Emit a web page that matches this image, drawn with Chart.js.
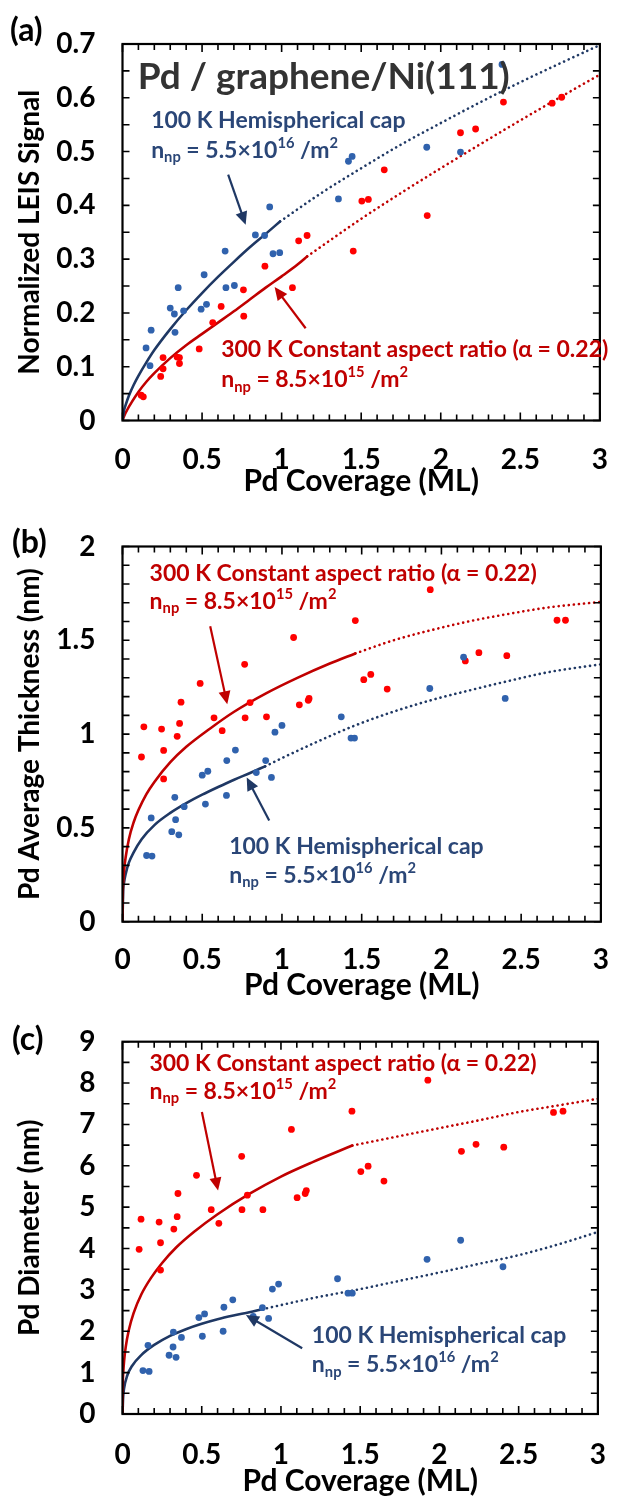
<!DOCTYPE html>
<html>
<head>
<meta charset="utf-8">
<script src="https://cdn.jsdelivr.net/npm/chart.js@4.4.0/dist/chart.umd.min.js"></script>
<style>
  body { margin: 0; background: #fff; }
  .wrap { position: relative; width: 633px; height: 1496px; overflow: hidden; }
  .wrap canvas { position: absolute; left: 0; }
  .tag { position: absolute; font: bold 32px Lato, sans-serif; color: #000; }
</style>
</head>
<body>
<div class="wrap">
  <canvas id="chartA" width="633" height="500" style="top:0px"></canvas>
  <canvas id="chartB" width="633" height="505" style="top:495px"></canvas>
  <canvas id="chartC" width="633" height="505" style="top:991px"></canvas>
  <div class="tag" style="left:10px;top:9px">(a)</div>
  <div class="tag" style="left:12px;top:521px">(b)</div>
  <div class="tag" style="left:12px;top:1018px">(c)</div>
</div>
<script>
// ---- panel (a): normalized LEIS signal ----
const aBlueX = [0.148, 0.173, 0.18, 0.30, 0.326, 0.33, 0.35, 0.384, 0.494, 0.513, 0.528, 0.645, 0.65, 0.703, 0.835, 0.893, 0.925, 0.946, 0.988, 1.357, 1.42, 1.443, 1.912, 2.124, 2.385]
const aBlueY = [0.135, 0.102, 0.168, 0.209, 0.198, 0.164, 0.247, 0.204, 0.207, 0.271, 0.216, 0.315, 0.247, 0.251, 0.345, 0.344, 0.397, 0.31, 0.312, 0.412, 0.482, 0.491, 0.508, 0.499, 0.662]
const aRedX = [0.117, 0.131, 0.24, 0.255, 0.255, 0.343, 0.358, 0.358, 0.482, 0.567, 0.62, 0.76, 0.762, 0.895, 1.068, 1.107, 1.16, 1.45, 1.504, 1.545, 1.645, 1.915, 2.124, 2.219, 2.394, 2.70, 2.76]
const aRedY = [0.047, 0.044, 0.082, 0.117, 0.096, 0.118, 0.117, 0.106, 0.133, 0.182, 0.212, 0.243, 0.194, 0.287, 0.247, 0.334, 0.344, 0.315, 0.408, 0.411, 0.466, 0.381, 0.535, 0.542, 0.592, 0.590, 0.601]
const aBlueFitX = [0, 0.01, 0.02, 0.04, 0.07, 0.1, 0.15, 0.2, 0.3, 0.4, 0.5, 0.6, 0.7, 0.8, 0.9, 0.99]
const aBlueFitY = [0, 0.019, 0.029, 0.046, 0.066, 0.083, 0.108, 0.131, 0.170, 0.205, 0.237, 0.267, 0.295, 0.322, 0.347, 0.370]
const aBlueExtX = [0.99, 1.25, 1.5, 1.75, 2, 2.25, 2.5, 2.75, 3]
const aBlueExtY = [0.370, 0.423, 0.469, 0.513, 0.553, 0.592, 0.629, 0.664, 0.698]
const aRedFitX = [0, 0.01, 0.03, 0.06, 0.1, 0.15, 0.2, 0.3, 0.4, 0.5, 0.6, 0.7, 0.8, 0.9, 1.0, 1.1, 1.16]
const aRedFitY = [0, 0.008, 0.02, 0.035, 0.053, 0.072, 0.088, 0.116, 0.14, 0.161, 0.182, 0.203, 0.225, 0.247, 0.268, 0.29, 0.305]
const aRedExtX = [1.16, 1.5, 1.75, 2, 2.25, 2.5, 2.75, 3]
const aRedExtY = [0.305, 0.375, 0.423, 0.469, 0.514, 0.558, 0.601, 0.643]

// ---- panel (b): average thickness ----
const bBlueX = [0.151, 0.185, 0.18, 0.309, 0.328, 0.333, 0.353, 0.387, 0.5, 0.535, 0.52, 0.654, 0.652, 0.708, 0.839, 0.898, 0.934, 0.956, 1.0, 1.372, 1.433, 1.455, 1.927, 2.139, 2.4]
const bBlueY = [0.353, 0.35, 0.553, 0.48, 0.663, 0.544, 0.463, 0.613, 0.781, 0.802, 0.627, 0.859, 0.673, 0.915, 0.795, 0.859, 0.769, 1.01, 1.046, 1.092, 0.979, 0.979, 1.243, 1.41, 1.19]
const bRedX = [0.119, 0.134, 0.245, 0.258, 0.258, 0.343, 0.358, 0.367, 0.487, 0.574, 0.625, 0.766, 0.769, 0.8, 0.903, 1.073, 1.109, 1.165, 1.17, 1.46, 1.513, 1.557, 1.66, 1.93, 2.15, 2.235, 2.41, 2.725, 2.778]
const bRedY = [0.878, 1.039, 1.027, 0.913, 0.761, 0.988, 1.057, 1.17, 1.27, 1.087, 1.018, 1.372, 1.087, 1.168, 1.092, 1.515, 1.156, 1.18, 1.19, 1.605, 1.29, 1.318, 1.24, 1.77, 1.39, 1.434, 1.418, 1.607, 1.607]
const bRedFitX = [0, 0.002, 0.005, 0.01, 0.02, 0.04, 0.07, 0.1, 0.15, 0.2, 0.3, 0.4, 0.55, 0.7, 0.9, 1.1, 1.3, 1.46]
const bRedFitY = [0, 0.16, 0.215, 0.275, 0.345, 0.44, 0.53, 0.595, 0.68, 0.745, 0.85, 0.932, 1.03, 1.119, 1.217, 1.301, 1.376, 1.43]
const bRedExtX = [1.46, 1.7, 1.94, 2.185, 2.43, 2.67, 3]
const bRedExtY = [1.43, 1.50, 1.555, 1.603, 1.642, 1.675, 1.705]
const bBlueFitX = [0, 0.004, 0.01, 0.02, 0.04, 0.07, 0.12, 0.2, 0.3, 0.4, 0.5, 0.6, 0.7, 0.8, 0.894]
const bBlueFitY = [0, 0.16, 0.21, 0.255, 0.315, 0.37, 0.44, 0.515, 0.58, 0.632, 0.677, 0.718, 0.757, 0.793, 0.828]
const bBlueExtX = [0.894, 1.0, 1.21, 1.455, 1.7, 1.94, 2.185, 2.43, 2.67, 3]
const bBlueExtY = [0.828, 0.872, 0.955, 1.045, 1.12, 1.182, 1.235, 1.285, 1.33, 1.372]

// ---- panel (c): diameter ----
const cBlueX = [0.129, 0.168, 0.161, 0.294, 0.319, 0.338, 0.321, 0.372, 0.482, 0.518, 0.504, 0.64, 0.635, 0.696, 0.825, 0.883, 0.922, 0.946, 0.985, 1.357, 1.423, 1.45, 1.922, 2.134, 2.401]
const cBlueY = [1.05, 1.03, 1.66, 1.42, 1.62, 1.37, 1.98, 1.85, 2.33, 2.42, 1.88, 2.58, 2.0, 2.76, 2.36, 2.57, 2.31, 3.02, 3.14, 3.27, 2.92, 2.92, 3.74, 4.2, 3.56]
const cRedX = [0.105, 0.117, 0.231, 0.24, 0.24, 0.324, 0.345, 0.35, 0.467, 0.56, 0.608, 0.752, 0.754, 0.788, 0.886, 1.066, 1.102, 1.153, 1.16, 1.448, 1.504, 1.55, 1.65, 1.927, 2.139, 2.231, 2.406, 2.72, 2.78]
const cRedY = [3.98, 4.71, 4.64, 4.14, 3.48, 4.47, 4.77, 5.33, 5.77, 4.94, 4.61, 6.23, 4.94, 5.29, 4.94, 6.88, 5.23, 5.33, 5.40, 7.32, 5.86, 5.99, 5.63, 8.07, 6.35, 6.52, 6.45, 7.29, 7.32]
const cRedFitX = [0, 0.002, 0.005, 0.01, 0.02, 0.04, 0.07, 0.12, 0.18, 0.25, 0.34, 0.45, 0.6, 0.8, 1.0, 1.2, 1.45]
const cRedFitY = [0, 0.75, 1.02, 1.28, 1.61, 2.03, 2.44, 2.9, 3.29, 3.65, 4.03, 4.4, 4.83, 5.32, 5.74, 6.09, 6.49]
const cRedExtX = [1.45, 1.75, 2, 2.25, 2.5, 2.75, 3]
const cRedExtY = [6.49, 6.72, 6.91, 7.1, 7.3, 7.46, 7.62]
const cBlueFitX = [0, 0.004, 0.01, 0.03, 0.06, 0.12, 0.2, 0.3, 0.4, 0.5, 0.6, 0.7, 0.8, 0.88]
const cBlueFitY = [0, 0.4, 0.62, 0.93, 1.16, 1.43, 1.67, 1.89, 2.05, 2.18, 2.29, 2.38, 2.46, 2.53]
const cBlueExtX = [0.88, 1.2, 1.5, 1.75, 2, 2.25, 2.5, 2.75, 3]
const cBlueExtY = [2.53, 2.8, 3.02, 3.22, 3.42, 3.63, 3.84, 4.1, 4.4]

const xTicks = { min: 0, max: 3, step: 0.5 }

const BLUE_PT = '#3062ad', BLUE_LN = '#1f3864', BLUE_TX = '#2a4677'
const RED_PT = '#ff0000', RED_LN = '#c00000', RED_TX = '#c00000'
const FONT = 'Lato, "Open Sans", sans-serif'

Chart.defaults.font.family = FONT
Chart.defaults.color = '#000'

function pts(xs, ys) {
  return xs.map((x, i) => ({ x: x, y: ys[i] }))
}

function dots(xs, ys, color) {
  return { data: pts(xs, ys), showLine: false, pointRadius: 3.4, pointHoverRadius: 3.4,
    pointBackgroundColor: color, pointBorderWidth: 0, order: 0 }
}

function curve(xs, ys, color, dotted) {
  return { data: pts(xs, ys), showLine: true, pointRadius: 0, borderColor: color,
    borderWidth: 2.6, borderDash: dotted ? [0.1, 5] : [],
    borderCapStyle: 'round', cubicInterpolationMode: 'monotone', order: 1 }
}

function drawRich(ctx, x, y, runs, size, color) {
  let cx = x
  ctx.fillStyle = color
  ctx.textAlign = 'left'
  ctx.textBaseline = 'middle'
  runs.forEach(function (r) {
    const s = r[1] ? size * 0.64 : size
    ctx.font = 'bold ' + s + 'px ' + FONT
    const dy = r[1] === 'sub' ? size * 0.3 : r[1] === 'sup' ? -size * 0.32 : 0
    ctx.fillText(r[0], cx, y + dy)
    cx += ctx.measureText(r[0]).width
  })
}

function arrow(ctx, x1, y1, x2, y2, color) {
  const ang = Math.atan2(y2 - y1, x2 - x1)
  const hl = 13, hw = 6
  ctx.strokeStyle = color
  ctx.fillStyle = color
  ctx.lineWidth = 2.2
  ctx.beginPath()
  ctx.moveTo(x1, y1)
  ctx.lineTo(x2 - Math.cos(ang) * hl * 0.8, y2 - Math.sin(ang) * hl * 0.8)
  ctx.stroke()
  ctx.beginPath()
  ctx.moveTo(x2, y2)
  ctx.lineTo(x2 - Math.cos(ang) * hl - Math.sin(ang) * hw, y2 - Math.sin(ang) * hl + Math.cos(ang) * hw)
  ctx.lineTo(x2 - Math.cos(ang) * hl + Math.sin(ang) * hw, y2 - Math.sin(ang) * hl - Math.cos(ang) * hw)
  ctx.closePath()
  ctx.fill()
}

// frame, inward ticks, notes and arrows
const deco = {
  id: 'deco',
  afterDraw(chart, args, opts) {
    const ctx = chart.ctx, a = chart.chartArea
    const xs = chart.scales.x, ys = chart.scales.y
    ctx.save()
    ctx.strokeStyle = '#000'
    ctx.lineWidth = 1.6
    ctx.beginPath()
    for (let i = 0; i <= 30; i++) {
      const px = xs.getPixelForValue(i * 0.1)
      const len = i % 5 === 0 ? 8 : 6
      ctx.moveTo(px, a.bottom); ctx.lineTo(px, a.bottom - len)
      ctx.moveTo(px, a.top); ctx.lineTo(px, a.top + len)
    }
    const n = Math.round(ys.max / opts.yMinor)
    for (let i = 0; i <= n; i++) {
      const py = ys.getPixelForValue(i * opts.yMinor)
      ctx.moveTo(a.left, py); ctx.lineTo(a.left + 7, py)
      ctx.moveTo(a.right, py); ctx.lineTo(a.right - 7, py)
    }
    ctx.stroke()
    ctx.lineWidth = 2.2
    ctx.strokeRect(a.left, a.top, a.right - a.left, a.bottom - a.top)

    opts.notes.forEach(function (nt) {
      drawRich(ctx, xs.getPixelForValue(nt.x), ys.getPixelForValue(nt.y), nt.runs, nt.size, nt.color)
    })
    opts.arrows.forEach(function (ar) {
      arrow(ctx, xs.getPixelForValue(ar[0]), ys.getPixelForValue(ar[1]),
        xs.getPixelForValue(ar[2]), ys.getPixelForValue(ar[3]), ar[4])
    })
    ctx.restore()
  }
}

const redLine1 = [['300 K Constant aspect ratio (\u03b1 = 0.22)', '']]
const redLine2 = [['n', ''], ['np', 'sub'], [' = 8.5\u00d710', ''], ['15', 'sup'], [' /m', ''], ['2', 'sup']]
const blueLine1 = [['100 K Hemispherical cap', '']]
const blueLine2 = [['n', ''], ['np', 'sub'], [' = 5.5\u00d710', ''], ['16', 'sup'], [' /m', ''], ['2', 'sup']]

function plainNum(v) {
  return String(+Number(v).toFixed(2))
}

function makePanel(id, p) {
  const H = document.getElementById(id).height
  return new Chart(document.getElementById(id).getContext('2d'), {
    type: 'scatter',
    data: { datasets: p.datasets },
    plugins: [deco],
    options: {
      responsive: false,
      animation: false,
      layout: { padding: { top: p.top, right: 13, left: 0, bottom: 0 } },
      plugins: {
        legend: { display: false },
        tooltip: { enabled: false },
        deco: { yMinor: p.yMinor, notes: p.notes, arrows: p.arrows }
      },
      scales: {
        x: {
          type: 'linear', min: xTicks.min, max: xTicks.max,
          grid: { display: false, drawTicks: false },
          border: { display: false },
          ticks: { stepSize: xTicks.step, padding: p.xPad, callback: plainNum,
            font: { size: 28, weight: 'bold', lineHeight: 1 } },
          title: { display: true, text: 'Pd Coverage (ML)', padding: { top: 0, bottom: p.xTitlePad },
            font: { size: 30, weight: 'bold', lineHeight: 1 } },
          afterFit: function (s) { s.height = H - p.bottom }
        },
        y: {
          type: 'linear', min: 0, max: p.yMax,
          grid: { display: false, drawTicks: false },
          border: { display: false },
          ticks: { stepSize: p.yStep, padding: 27, callback: plainNum,
            font: { size: 28, weight: 'bold', lineHeight: 1 } },
          title: { display: true, text: p.yTitle, padding: { top: 16, bottom: 0 },
            font: { size: 28, weight: 'bold', lineHeight: 1 } },
          afterFit: function (s) { s.width = 122.5 }
        }
      }
    }
  })
}

document.addEventListener('DOMContentLoaded', function () {
  makePanel('chartA', {
    top: 44, bottom: 420.5, xPad: 25, xTitlePad: 4,
    yMax: 0.7, yStep: 0.1, yMinor: 0.05, yTitle: 'Normalized LEIS Signal',
    datasets: [
      dots(aBlueX, aBlueY, BLUE_PT), dots(aRedX, aRedY, RED_PT),
      curve(aBlueFitX, aBlueFitY, BLUE_LN, false), curve(aBlueExtX, aBlueExtY, BLUE_LN, true),
      curve(aRedFitX, aRedFitY, RED_LN, false), curve(aRedExtX, aRedExtY, RED_LN, true)
    ],
    notes: [
      { x: 0.096, y: 0.638, runs: [['Pd / graphene/Ni(111)', '']], size: 37, color: '#333' },
      { x: 0.18, y: 0.558, runs: blueLine1, size: 23, color: BLUE_TX },
      { x: 0.18, y: 0.502, runs: blueLine2, size: 23, color: BLUE_TX },
      { x: 0.62, y: 0.131, runs: redLine1, size: 23, color: RED_TX },
      { x: 0.62, y: 0.0755, runs: redLine2, size: 23, color: RED_TX }
    ],
    arrows: [[0.664, 0.457, 0.774, 0.364, BLUE_LN], [1.151, 0.1715, 0.956, 0.248, RED_LN]]
  })

  makePanel('chartB', {
    top: 51.5, bottom: 426.7, xPad: 24, xTitlePad: 0,
    yMax: 2, yStep: 0.5, yMinor: 0.1, yTitle: 'Pd Average Thickness (nm)',
    datasets: [
      dots(bBlueX, bBlueY, BLUE_PT), dots(bRedX, bRedY, RED_PT),
      curve(bRedFitX, bRedFitY, RED_LN, false), curve(bRedExtX, bRedExtY, RED_LN, true),
      curve(bBlueFitX, bBlueFitY, BLUE_LN, false), curve(bBlueExtX, bBlueExtY, BLUE_LN, true)
    ],
    notes: [
      { x: 0.17, y: 1.858, runs: redLine1, size: 23, color: RED_TX },
      { x: 0.17, y: 1.708, runs: redLine2, size: 23, color: RED_TX },
      { x: 0.669, y: 0.401, runs: blueLine1, size: 23, color: BLUE_TX },
      { x: 0.669, y: 0.247, runs: blueLine2, size: 23, color: BLUE_TX }
    ],
    arrows: [[0.55, 1.575, 0.657, 1.159, RED_LN], [0.92, 0.539, 0.779, 0.769, BLUE_LN]]
  })

  makePanel('chartC', {
    top: 50.7, bottom: 423, xPad: 27, xTitlePad: 0,
    yMax: 9, yStep: 1, yMinor: 0.5, yTitle: 'Pd Diameter (nm)',
    datasets: [
      dots(cBlueX, cBlueY, BLUE_PT), dots(cRedX, cRedY, RED_PT),
      curve(cRedFitX, cRedFitY, RED_LN, false), curve(cRedExtX, cRedExtY, RED_LN, true),
      curve(cBlueFitX, cBlueFitY, BLUE_LN, false), curve(cBlueExtX, cBlueExtY, BLUE_LN, true)
    ],
    notes: [
      { x: 0.17, y: 8.47, runs: redLine1, size: 23, color: RED_TX },
      { x: 0.17, y: 7.79, runs: redLine2, size: 23, color: RED_TX },
      { x: 1.195, y: 1.895, runs: blueLine1, size: 23, color: BLUE_TX },
      { x: 1.195, y: 1.185, runs: blueLine2, size: 23, color: BLUE_TX }
    ],
    arrows: [[0.501, 7.30, 0.603, 5.40, RED_LN], [1.134, 1.589, 0.779, 2.395, BLUE_LN]]
  })
})
</script>
</body>
</html>
